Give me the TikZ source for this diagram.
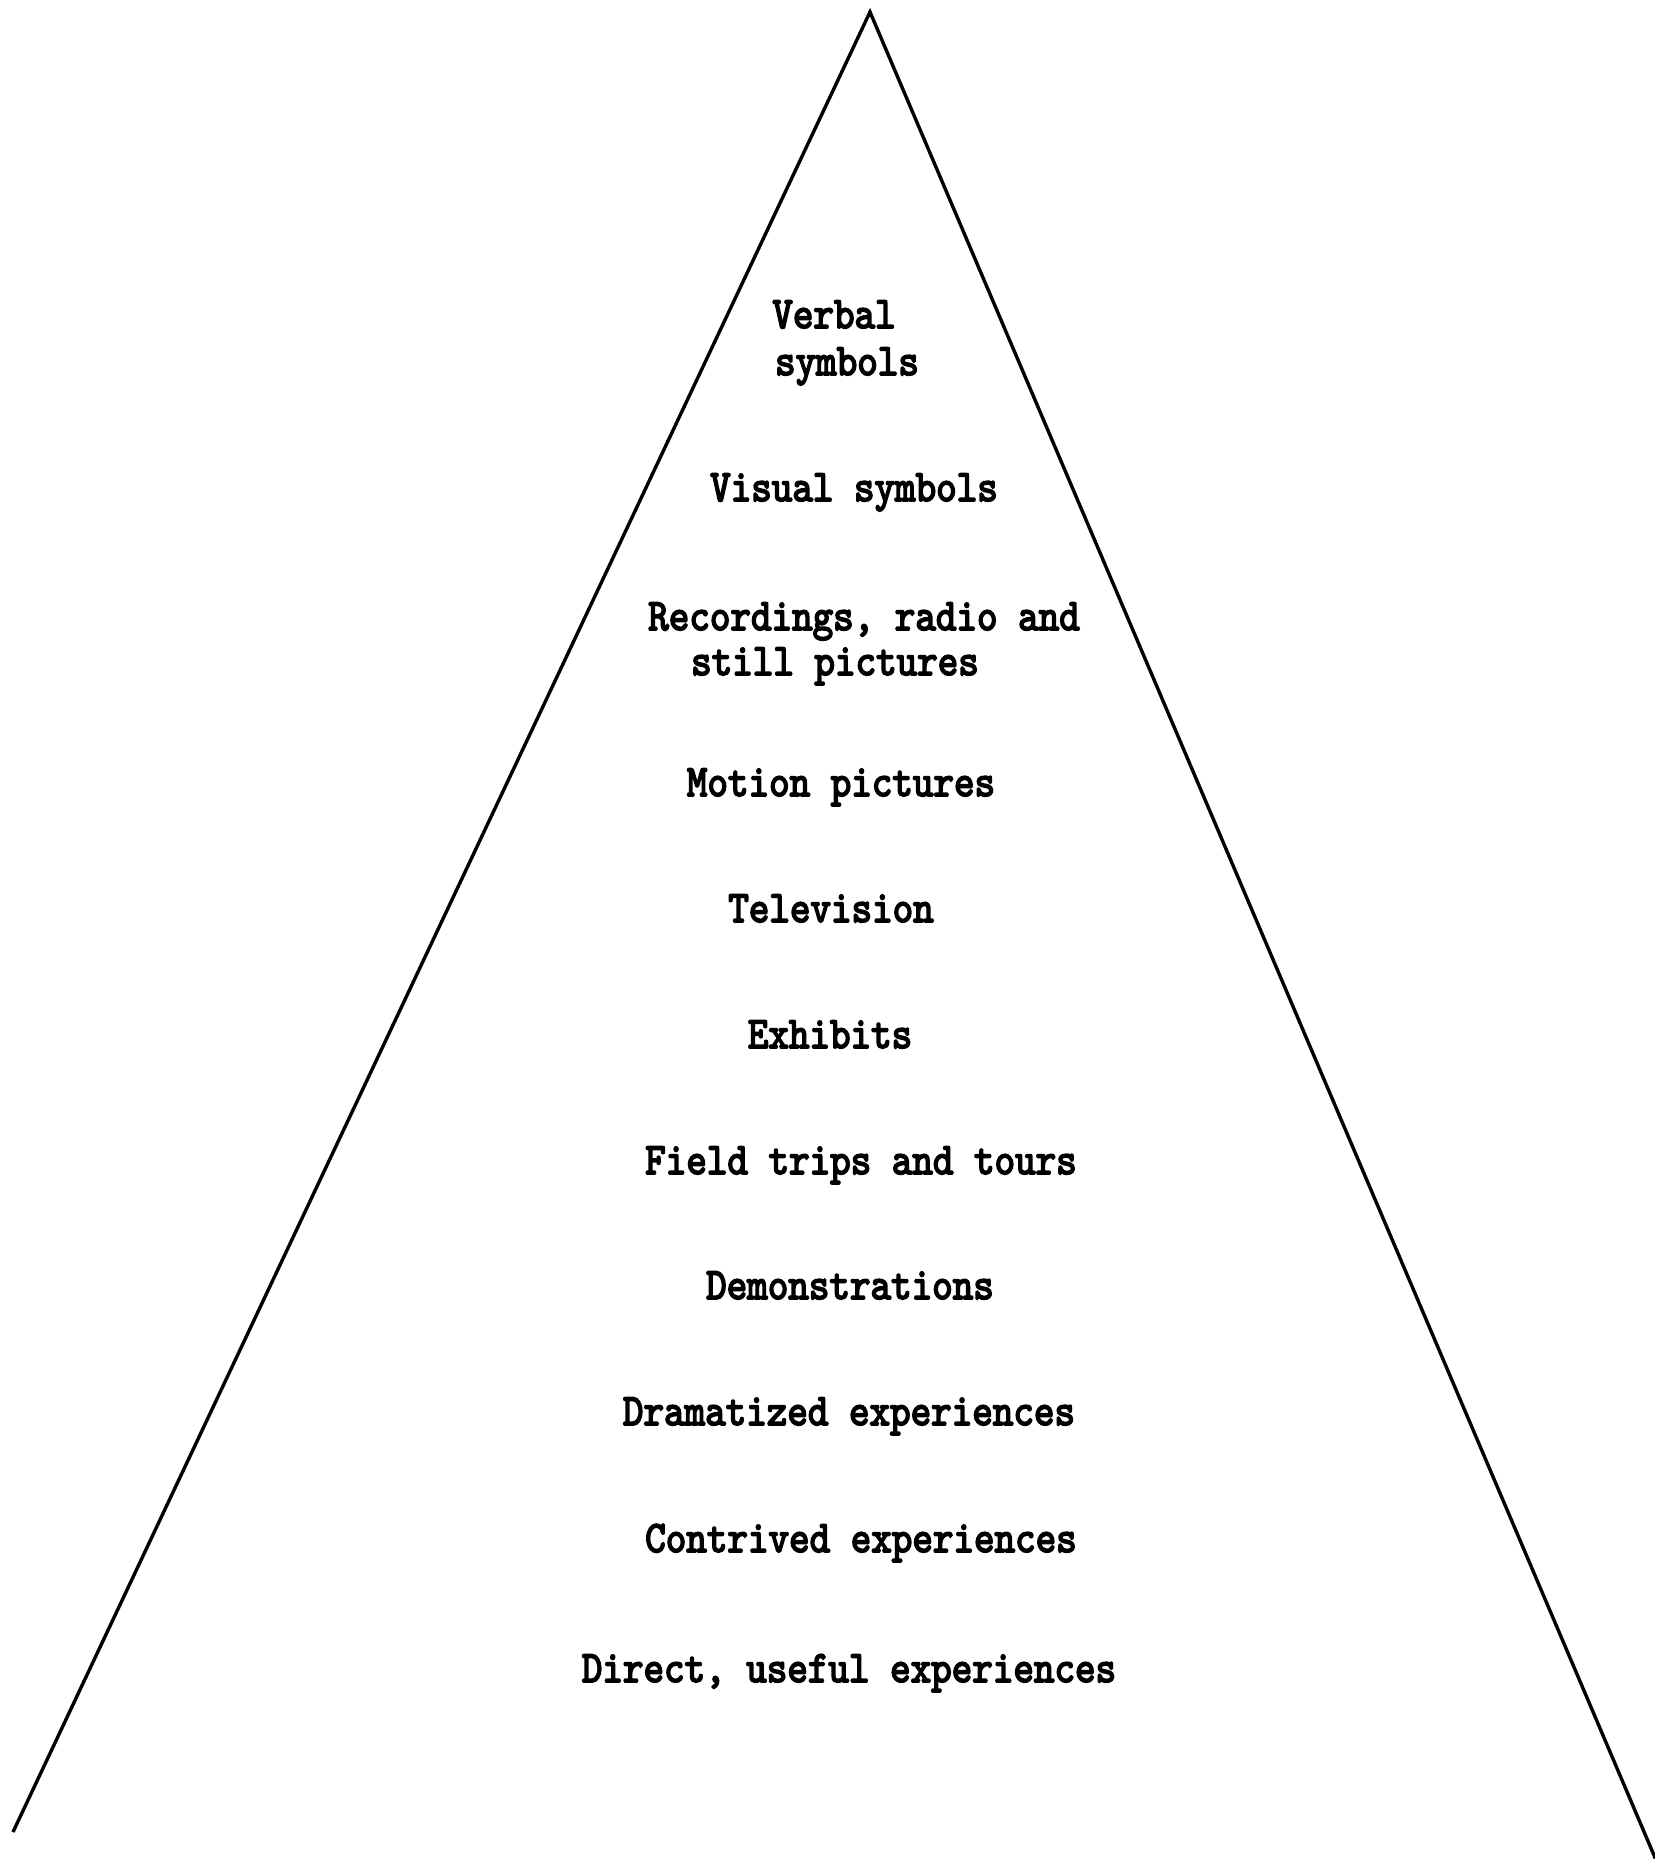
\documentclass[tikz,border=0pt]{standalone}
\usepackage{fontspec}
\usepackage{graphicx}
\newfontfamily\twfont{lmmono10-regular.otf}[FakeBold=4]
\newcommand{\tw}[1]{\scalebox{1.03}[1.18]{#1}}
\tikzset{
  pyr/.style={line width=3.4pt, line join=miter, black},
  lbl/.style={anchor=base, inner sep=0pt, font=\fontsize{38}{44}\selectfont\twfont}
}
\begin{document}
\begin{tikzpicture}[x=1pt,y=-1pt]
\useasboundingbox[fill=white] (0,0) rectangle (1654,1859);
\coordinate (apex) at (870,12);
\coordinate (bl) at (13,1832);
\coordinate (br) at (1656,1860);
\draw[pyr] (bl) -- (apex) -- (br);

\node[lbl] (verbal) at (834,328) {\tw{Verbal}};
\node[lbl] (symbols) at (847,375) {\tw{symbols}};
\node[lbl] (visual) at (854,501) {\tw{Visual symbols}};
\node[lbl] (rec1) at (864,630) {\tw{Recordings, radio and}};
\node[lbl] (rec2) at (835,675) {\tw{still pictures}};
\node[lbl] (motion) at (841,796) {\tw{Motion pictures}};
\node[lbl] (tv) at (831,922) {\tw{Television}};
\node[lbl] (exhibits) at (830,1048) {\tw{Exhibits}};
\node[lbl] (field) at (861,1174) {\tw{Field trips and tours}};
\node[lbl] (demo) at (850,1299) {\tw{Demonstrations}};
\node[lbl] (drama) at (849,1425) {\tw{Dramatized experiences}};
\node[lbl] (contrived) at (861,1552) {\tw{Contrived experiences}};
\node[lbl] (direct) at (849,1682) {\tw{Direct, useful experiences}};
\end{tikzpicture}
\end{document}
